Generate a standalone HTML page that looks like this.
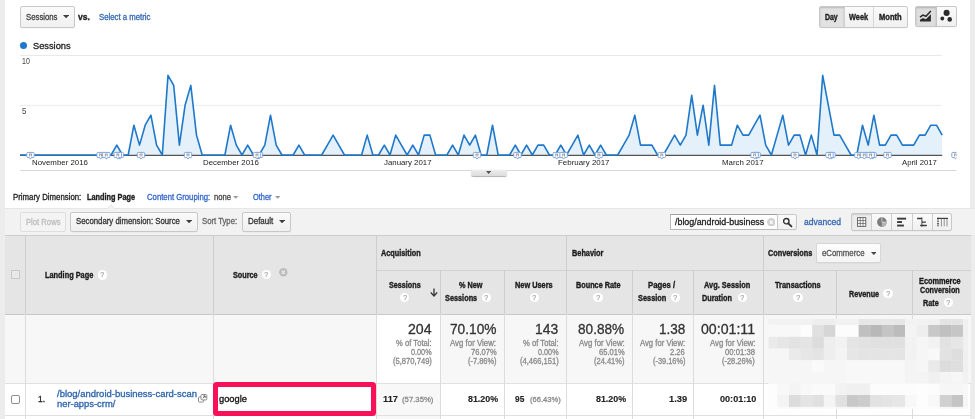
<!DOCTYPE html><html><head><meta charset="utf-8"><title>Analytics</title><style>
html,body{margin:0;padding:0}
body{width:975px;height:419px;overflow:hidden;background:#fff;position:relative;font-family:"Liberation Sans",sans-serif}
.abs{position:absolute}
.t{position:absolute;white-space:nowrap;line-height:1;transform-origin:0 50%;-webkit-text-stroke:0.3px currentColor}
.t.b{-webkit-text-stroke:0.36px currentColor}
.t.n{-webkit-text-stroke:0}
.t.d{-webkit-text-stroke:0.12px currentColor}
.btn{position:absolute;box-sizing:border-box;border:1px solid #c8c8c8;border-radius:2px;background:linear-gradient(#fafafa,#f0f0f0);box-shadow:0 0.5px 0.5px rgba(0,0,0,.06)}
.hi{width:9.4px;height:9.4px;border-radius:50%;background:#fff;color:#a9a9a9;font-size:7.6px;line-height:9.8px;text-align:center;font-weight:400;-webkit-text-stroke:0.25px #a9a9a9}
.hi span{display:inline-block;transform:scaleX(0.94)}
.vl{position:absolute;width:1px;background:#cfcfcf}
.hl{position:absolute;height:1px;background:#cfcfcf}

</style></head><body>
<div class="abs" style="left:0;top:0;width:5px;height:419px;background:#ececec"></div>
<div class="abs" style="left:970px;top:0;width:5px;height:419px;background:#ececec"></div>
<div class="btn" style="left:19.5px;top:6px;width:55px;height:22px"></div>
<svg class="abs" style="left:63.1px;top:15.0px" width="6.2" height="3.3" viewBox="0 0 6.2 3.3"><path d="M0,0H6.2L3.1,3.3Z" fill="#3d3d3d"/></svg>
<div class="btn" style="left:819px;top:6px;width:88.6px;height:22px"></div>
<div class="abs" style="left:820px;top:7px;width:23.6px;height:20px;background:#e2e2e2;box-shadow:inset 0 1px 2px rgba(0,0,0,.18);border-radius:1px 0 0 1px"></div>
<div class="vl" style="left:843.5px;top:7px;height:20px;background:#d0d0d0"></div>
<div class="vl" style="left:873px;top:7px;height:20px;background:#d6d6d6"></div>
<div class="btn" style="left:915px;top:6px;width:41.6px;height:20.8px"></div>
<div class="abs" style="left:916px;top:7px;width:20px;height:18.8px;background:#dedede;box-shadow:inset 0 1px 2px rgba(0,0,0,.2);border-radius:1px 0 0 1px"></div>
<div class="vl" style="left:935.8px;top:7px;height:18.8px;background:#c4c4c4"></div>
<svg class="abs" style="left:915px;top:6px" width="42" height="21" viewBox="0 0 42 21">
<path d="M5,11.2L7.9,9.1L10.9,10.3L15.9,4.9" fill="none" stroke="#2b2b2b" stroke-width="1.5"/>
<path d="M5,13.7L7.9,12L10.9,13.2L15.9,8.2V15.6H5Z" fill="#2b2b2b"/>
<circle cx="31.6" cy="6.9" r="3.05" fill="#2b2b2b"/><circle cx="27.3" cy="12.5" r="1.9" fill="#2b2b2b"/><circle cx="34.7" cy="13.4" r="2.3" fill="#2b2b2b"/>
</svg>
<div class="abs" style="left:19.7px;top:42.1px;width:7px;height:7px;border-radius:50%;background:#1f78c9"></div>
<svg class="abs" style="left:0;top:0" width="975" height="200" viewBox="0 0 975 200">
<line x1="20" y1="55.5" x2="942" y2="55.5" stroke="#e9e9e9" stroke-width="1"/>
<line x1="20" y1="105.4" x2="942" y2="105.4" stroke="#ececec" stroke-width="1"/>
<line x1="20" y1="170.5" x2="956.5" y2="170.5" stroke="#d9d9d9" stroke-width="1"/>
<path d="M20.0,155.0 L20.0,155.0 L25.7,155.0 L31.4,155.0 L37.1,155.0 L42.8,155.0 L48.5,155.0 L54.2,155.0 L59.8,155.0 L65.5,155.0 L71.2,155.0 L76.9,155.0 L82.6,155.0 L88.3,155.0 L94.0,155.0 L99.7,155.0 L105.4,155.0 L111.1,155.0 L116.8,145.1 L122.5,155.0 L128.2,155.0 L133.9,125.2 L139.5,145.1 L145.2,125.2 L150.9,115.2 L156.6,145.1 L162.3,155.0 L168.0,75.4 L173.7,85.4 L179.4,145.1 L185.1,105.2 L190.8,85.4 L196.5,135.1 L202.2,155.0 L207.9,155.0 L213.5,155.0 L219.2,155.0 L224.9,155.0 L230.6,125.2 L236.3,145.1 L242.0,155.0 L247.7,145.1 L253.4,155.0 L259.1,155.0 L264.8,145.1 L270.5,115.2 L276.2,145.1 L281.9,155.0 L287.6,155.0 L293.2,155.0 L298.9,145.1 L304.6,155.0 L310.3,155.0 L316.0,155.0 L321.7,155.0 L327.4,145.1 L333.1,135.1 L338.8,145.1 L344.5,155.0 L350.2,155.0 L355.9,155.0 L361.6,155.0 L367.2,135.1 L372.9,155.0 L378.6,155.0 L384.3,145.1 L390.0,155.0 L395.7,135.1 L401.4,145.1 L407.1,155.0 L412.8,145.1 L418.5,155.0 L424.2,135.1 L429.9,135.1 L435.6,155.0 L441.3,155.0 L446.9,155.0 L452.6,145.1 L458.3,155.0 L464.0,135.1 L469.7,145.1 L475.4,135.1 L481.1,155.0 L486.8,155.0 L492.5,125.2 L498.2,155.0 L503.9,155.0 L509.6,155.0 L515.3,145.1 L520.9,155.0 L526.6,145.1 L532.3,155.0 L538.0,145.1 L543.7,145.1 L549.4,155.0 L555.1,155.0 L560.8,145.1 L566.5,155.0 L572.2,145.1 L577.9,135.1 L583.6,155.0 L589.3,145.1 L595.0,155.0 L600.6,145.1 L606.3,155.0 L612.0,155.0 L617.7,155.0 L623.4,145.1 L629.1,135.1 L634.8,115.2 L640.5,145.1 L646.2,145.1 L651.9,145.1 L657.6,155.0 L663.3,155.0 L669.0,145.1 L674.6,135.1 L680.3,145.1 L686.0,135.1 L691.7,95.3 L697.4,135.1 L703.1,105.2 L708.8,145.1 L714.5,85.4 L720.2,145.1 L725.9,145.1 L731.6,145.1 L737.3,125.2 L743.0,135.1 L748.7,135.1 L754.3,125.2 L760.0,115.2 L765.7,145.1 L771.4,155.0 L777.1,135.1 L782.8,115.2 L788.5,145.1 L794.2,135.1 L799.9,135.1 L805.6,155.0 L811.3,135.1 L817.0,155.0 L822.7,75.4 L828.3,105.2 L834.0,135.1 L839.7,135.1 L845.4,145.1 L851.1,155.0 L856.8,155.0 L862.5,125.2 L868.2,145.1 L873.9,115.2 L879.6,145.1 L885.3,145.1 L891.0,135.1 L896.7,135.1 L902.4,145.1 L908.0,145.1 L913.7,145.1 L919.4,135.1 L925.1,135.1 L930.8,125.2 L936.5,125.2 L942.2,135.1 L942.2,155.0 Z" fill="#e4f1fa"/>
<line x1="20" y1="155.4" x2="942.2" y2="155.4" stroke="#555" stroke-width="1.2"/>
<polyline points="20.0,155.0 25.7,155.0 31.4,155.0 37.1,155.0 42.8,155.0 48.5,155.0 54.2,155.0 59.8,155.0 65.5,155.0 71.2,155.0 76.9,155.0 82.6,155.0 88.3,155.0 94.0,155.0 99.7,155.0 105.4,155.0 111.1,155.0 116.8,145.1 122.5,155.0 128.2,155.0 133.9,125.2 139.5,145.1 145.2,125.2 150.9,115.2 156.6,145.1 162.3,155.0 168.0,75.4 173.7,85.4 179.4,145.1 185.1,105.2 190.8,85.4 196.5,135.1 202.2,155.0 207.9,155.0 213.5,155.0 219.2,155.0 224.9,155.0 230.6,125.2 236.3,145.1 242.0,155.0 247.7,145.1 253.4,155.0 259.1,155.0 264.8,145.1 270.5,115.2 276.2,145.1 281.9,155.0 287.6,155.0 293.2,155.0 298.9,145.1 304.6,155.0 310.3,155.0 316.0,155.0 321.7,155.0 327.4,145.1 333.1,135.1 338.8,145.1 344.5,155.0 350.2,155.0 355.9,155.0 361.6,155.0 367.2,135.1 372.9,155.0 378.6,155.0 384.3,145.1 390.0,155.0 395.7,135.1 401.4,145.1 407.1,155.0 412.8,145.1 418.5,155.0 424.2,135.1 429.9,135.1 435.6,155.0 441.3,155.0 446.9,155.0 452.6,145.1 458.3,155.0 464.0,135.1 469.7,145.1 475.4,135.1 481.1,155.0 486.8,155.0 492.5,125.2 498.2,155.0 503.9,155.0 509.6,155.0 515.3,145.1 520.9,155.0 526.6,145.1 532.3,155.0 538.0,145.1 543.7,145.1 549.4,155.0 555.1,155.0 560.8,145.1 566.5,155.0 572.2,145.1 577.9,135.1 583.6,155.0 589.3,145.1 595.0,155.0 600.6,145.1 606.3,155.0 612.0,155.0 617.7,155.0 623.4,145.1 629.1,135.1 634.8,115.2 640.5,145.1 646.2,145.1 651.9,145.1 657.6,155.0 663.3,155.0 669.0,145.1 674.6,135.1 680.3,145.1 686.0,135.1 691.7,95.3 697.4,135.1 703.1,105.2 708.8,145.1 714.5,85.4 720.2,145.1 725.9,145.1 731.6,145.1 737.3,125.2 743.0,135.1 748.7,135.1 754.3,125.2 760.0,115.2 765.7,145.1 771.4,155.0 777.1,135.1 782.8,115.2 788.5,145.1 794.2,135.1 799.9,135.1 805.6,155.0 811.3,135.1 817.0,155.0 822.7,75.4 828.3,105.2 834.0,135.1 839.7,135.1 845.4,145.1 851.1,155.0 856.8,155.0 862.5,125.2 868.2,145.1 873.9,115.2 879.6,145.1 885.3,145.1 891.0,135.1 896.7,135.1 902.4,145.1 908.0,145.1 913.7,145.1 919.4,135.1 925.1,135.1 930.8,125.2 936.5,125.2 942.2,135.1" fill="none" stroke="#1f78c9" stroke-width="1.6" stroke-linejoin="round"/>
<clipPath id="mc"><rect x="0" y="0" width="956.5" height="200"/></clipPath><g clip-path="url(#mc)"><g transform="translate(26.4,152.0)"><path d="M1.4,0.4h5.4q1,0 1,1v3.2q0,1 -1,1h-1.7l-1,1.5l-1,-1.5h-1.7q-1,0 -1,-1v-3.2q0,-1 1,-1z" fill="#fff" stroke="#7ea5dd" stroke-width="1"/><path d="M2.6,2.1h3M3.2,2.4v2M5,2.4v2" stroke="#808080" stroke-width="0.8" fill="none"/></g>
<g transform="translate(96.5,152.0)"><path d="M1.4,0.4h5.4q1,0 1,1v3.2q0,1 -1,1h-1.7l-1,1.5l-1,-1.5h-1.7q-1,0 -1,-1v-3.2q0,-1 1,-1z" fill="#fff" stroke="#7ea5dd" stroke-width="1"/><path d="M2.6,2.1h3M3.2,2.4v2M5,2.4v2" stroke="#808080" stroke-width="0.8" fill="none"/></g>
<g transform="translate(102.2,152.0)"><path d="M1.4,0.4h5.4q1,0 1,1v3.2q0,1 -1,1h-1.7l-1,1.5l-1,-1.5h-1.7q-1,0 -1,-1v-3.2q0,-1 1,-1z" fill="#fff" stroke="#7ea5dd" stroke-width="1"/><path d="M2.6,2.1h3M3.2,2.4v2M5,2.4v2" stroke="#808080" stroke-width="0.8" fill="none"/></g>
<g transform="translate(115.7,152.0)"><path d="M1.4,0.4h5.4q1,0 1,1v3.2q0,1 -1,1h-1.7l-1,1.5l-1,-1.5h-1.7q-1,0 -1,-1v-3.2q0,-1 1,-1z" fill="#fff" stroke="#7ea5dd" stroke-width="1"/><path d="M2.6,2.1h3M3.2,2.4v2M5,2.4v2" stroke="#808080" stroke-width="0.8" fill="none"/></g>
<g transform="translate(113.7,152.0)"><path d="M1.4,0.4h5.4q1,0 1,1v3.2q0,1 -1,1h-1.7l-1,1.5l-1,-1.5h-1.7q-1,0 -1,-1v-3.2q0,-1 1,-1z" fill="#fff" stroke="#7ea5dd" stroke-width="1"/><path d="M2.6,2.1h3M3.2,2.4v2M5,2.4v2" stroke="#808080" stroke-width="0.8" fill="none"/></g>
<g transform="translate(136.9,152.0)"><path d="M1.4,0.4h5.4q1,0 1,1v3.2q0,1 -1,1h-1.7l-1,1.5l-1,-1.5h-1.7q-1,0 -1,-1v-3.2q0,-1 1,-1z" fill="#fff" stroke="#7ea5dd" stroke-width="1"/><path d="M2.6,2.1h3M3.2,2.4v2M5,2.4v2" stroke="#808080" stroke-width="0.8" fill="none"/></g>
<g transform="translate(183.9,152.0)"><path d="M1.4,0.4h5.4q1,0 1,1v3.2q0,1 -1,1h-1.7l-1,1.5l-1,-1.5h-1.7q-1,0 -1,-1v-3.2q0,-1 1,-1z" fill="#fff" stroke="#7ea5dd" stroke-width="1"/><path d="M2.6,2.1h3M3.2,2.4v2M5,2.4v2" stroke="#808080" stroke-width="0.8" fill="none"/></g>
<g transform="translate(254.9,152.0)"><path d="M1.4,0.4h5.4q1,0 1,1v3.2q0,1 -1,1h-1.7l-1,1.5l-1,-1.5h-1.7q-1,0 -1,-1v-3.2q0,-1 1,-1z" fill="#fff" stroke="#7ea5dd" stroke-width="1"/><path d="M2.6,2.1h3M3.2,2.4v2M5,2.4v2" stroke="#808080" stroke-width="0.8" fill="none"/></g>
<g transform="translate(252.9,152.0)"><path d="M1.4,0.4h5.4q1,0 1,1v3.2q0,1 -1,1h-1.7l-1,1.5l-1,-1.5h-1.7q-1,0 -1,-1v-3.2q0,-1 1,-1z" fill="#fff" stroke="#7ea5dd" stroke-width="1"/><path d="M2.6,2.1h3M3.2,2.4v2M5,2.4v2" stroke="#808080" stroke-width="0.8" fill="none"/></g>
<g transform="translate(472.9,152.0)"><path d="M1.4,0.4h5.4q1,0 1,1v3.2q0,1 -1,1h-1.7l-1,1.5l-1,-1.5h-1.7q-1,0 -1,-1v-3.2q0,-1 1,-1z" fill="#fff" stroke="#7ea5dd" stroke-width="1"/><path d="M2.6,2.1h3M3.2,2.4v2M5,2.4v2" stroke="#808080" stroke-width="0.8" fill="none"/></g>
<g transform="translate(513.4,152.0)"><path d="M1.4,0.4h5.4q1,0 1,1v3.2q0,1 -1,1h-1.7l-1,1.5l-1,-1.5h-1.7q-1,0 -1,-1v-3.2q0,-1 1,-1z" fill="#fff" stroke="#7ea5dd" stroke-width="1"/><path d="M2.6,2.1h3M3.2,2.4v2M5,2.4v2" stroke="#808080" stroke-width="0.8" fill="none"/></g>
<g transform="translate(552.6,152.0)"><path d="M1.4,0.4h5.4q1,0 1,1v3.2q0,1 -1,1h-1.7l-1,1.5l-1,-1.5h-1.7q-1,0 -1,-1v-3.2q0,-1 1,-1z" fill="#fff" stroke="#7ea5dd" stroke-width="1"/><path d="M2.6,2.1h3M3.2,2.4v2M5,2.4v2" stroke="#808080" stroke-width="0.8" fill="none"/></g>
<g transform="translate(559.5,152.0)"><path d="M1.4,0.4h5.4q1,0 1,1v3.2q0,1 -1,1h-1.7l-1,1.5l-1,-1.5h-1.7q-1,0 -1,-1v-3.2q0,-1 1,-1z" fill="#fff" stroke="#7ea5dd" stroke-width="1"/><path d="M2.6,2.1h3M3.2,2.4v2M5,2.4v2" stroke="#808080" stroke-width="0.8" fill="none"/></g>
<g transform="translate(594.8,152.0)"><path d="M1.4,0.4h5.4q1,0 1,1v3.2q0,1 -1,1h-1.7l-1,1.5l-1,-1.5h-1.7q-1,0 -1,-1v-3.2q0,-1 1,-1z" fill="#fff" stroke="#7ea5dd" stroke-width="1"/><path d="M2.6,2.1h3M3.2,2.4v2M5,2.4v2" stroke="#808080" stroke-width="0.8" fill="none"/></g>
<g transform="translate(657.7,152.0)"><path d="M1.4,0.4h5.4q1,0 1,1v3.2q0,1 -1,1h-1.7l-1,1.5l-1,-1.5h-1.7q-1,0 -1,-1v-3.2q0,-1 1,-1z" fill="#fff" stroke="#7ea5dd" stroke-width="1"/><path d="M2.6,2.1h3M3.2,2.4v2M5,2.4v2" stroke="#808080" stroke-width="0.8" fill="none"/></g>
<g transform="translate(752.5,152.0)"><path d="M1.4,0.4h5.4q1,0 1,1v3.2q0,1 -1,1h-1.7l-1,1.5l-1,-1.5h-1.7q-1,0 -1,-1v-3.2q0,-1 1,-1z" fill="#fff" stroke="#7ea5dd" stroke-width="1"/><path d="M2.6,2.1h3M3.2,2.4v2M5,2.4v2" stroke="#808080" stroke-width="0.8" fill="none"/></g>
<g transform="translate(750.5,152.0)"><path d="M1.4,0.4h5.4q1,0 1,1v3.2q0,1 -1,1h-1.7l-1,1.5l-1,-1.5h-1.7q-1,0 -1,-1v-3.2q0,-1 1,-1z" fill="#fff" stroke="#7ea5dd" stroke-width="1"/><path d="M2.6,2.1h3M3.2,2.4v2M5,2.4v2" stroke="#808080" stroke-width="0.8" fill="none"/></g>
<g transform="translate(790.9,152.0)"><path d="M1.4,0.4h5.4q1,0 1,1v3.2q0,1 -1,1h-1.7l-1,1.5l-1,-1.5h-1.7q-1,0 -1,-1v-3.2q0,-1 1,-1z" fill="#fff" stroke="#7ea5dd" stroke-width="1"/><path d="M2.6,2.1h3M3.2,2.4v2M5,2.4v2" stroke="#808080" stroke-width="0.8" fill="none"/></g>
<g transform="translate(827.4,152.0)"><path d="M1.4,0.4h5.4q1,0 1,1v3.2q0,1 -1,1h-1.7l-1,1.5l-1,-1.5h-1.7q-1,0 -1,-1v-3.2q0,-1 1,-1z" fill="#fff" stroke="#7ea5dd" stroke-width="1"/><path d="M2.6,2.1h3M3.2,2.4v2M5,2.4v2" stroke="#808080" stroke-width="0.8" fill="none"/></g>
<g transform="translate(825.4,152.0)"><path d="M1.4,0.4h5.4q1,0 1,1v3.2q0,1 -1,1h-1.7l-1,1.5l-1,-1.5h-1.7q-1,0 -1,-1v-3.2q0,-1 1,-1z" fill="#fff" stroke="#7ea5dd" stroke-width="1"/><path d="M2.6,2.1h3M3.2,2.4v2M5,2.4v2" stroke="#808080" stroke-width="0.8" fill="none"/></g>
<g transform="translate(854.3,152.0)"><path d="M1.4,0.4h5.4q1,0 1,1v3.2q0,1 -1,1h-1.7l-1,1.5l-1,-1.5h-1.7q-1,0 -1,-1v-3.2q0,-1 1,-1z" fill="#fff" stroke="#7ea5dd" stroke-width="1"/><path d="M2.6,2.1h3M3.2,2.4v2M5,2.4v2" stroke="#808080" stroke-width="0.8" fill="none"/></g>
<g transform="translate(860.2,152.0)"><path d="M1.4,0.4h5.4q1,0 1,1v3.2q0,1 -1,1h-1.7l-1,1.5l-1,-1.5h-1.7q-1,0 -1,-1v-3.2q0,-1 1,-1z" fill="#fff" stroke="#7ea5dd" stroke-width="1"/><path d="M2.6,2.1h3M3.2,2.4v2M5,2.4v2" stroke="#808080" stroke-width="0.8" fill="none"/></g>
<g transform="translate(868.5,152.0)"><path d="M1.4,0.4h5.4q1,0 1,1v3.2q0,1 -1,1h-1.7l-1,1.5l-1,-1.5h-1.7q-1,0 -1,-1v-3.2q0,-1 1,-1z" fill="#fff" stroke="#7ea5dd" stroke-width="1"/><path d="M2.6,2.1h3M3.2,2.4v2M5,2.4v2" stroke="#808080" stroke-width="0.8" fill="none"/></g>
<g transform="translate(866.5,152.0)"><path d="M1.4,0.4h5.4q1,0 1,1v3.2q0,1 -1,1h-1.7l-1,1.5l-1,-1.5h-1.7q-1,0 -1,-1v-3.2q0,-1 1,-1z" fill="#fff" stroke="#7ea5dd" stroke-width="1"/><path d="M2.6,2.1h3M3.2,2.4v2M5,2.4v2" stroke="#808080" stroke-width="0.8" fill="none"/></g>
<g transform="translate(883.4,152.0)"><path d="M1.4,0.4h5.4q1,0 1,1v3.2q0,1 -1,1h-1.7l-1,1.5l-1,-1.5h-1.7q-1,0 -1,-1v-3.2q0,-1 1,-1z" fill="#fff" stroke="#7ea5dd" stroke-width="1"/><path d="M2.6,2.1h3M3.2,2.4v2M5,2.4v2" stroke="#808080" stroke-width="0.8" fill="none"/></g>
<g transform="translate(951.4,152.0)"><path d="M1.4,0.4h5.4q1,0 1,1v3.2q0,1 -1,1h-1.7l-1,1.5l-1,-1.5h-1.7q-1,0 -1,-1v-3.2q0,-1 1,-1z" fill="#fff" stroke="#7ea5dd" stroke-width="1"/><path d="M2.6,2.1h3M3.2,2.4v2M5,2.4v2" stroke="#808080" stroke-width="0.8" fill="none"/></g></g>
</svg>
<div class="abs" style="left:470.6px;top:170.4px;width:36px;height:5.4px;background:linear-gradient(#ededed,#dcdcdc);border-radius:0 0 2px 2px;box-shadow:0 0.6px 0.8px rgba(0,0,0,.3)"></div>
<svg class="abs" style="left:486.3px;top:171.0px" width="5.2" height="2.9" viewBox="0 0 5.2 2.9"><path d="M0,0H5.2L2.6,2.9Z" fill="#555"/></svg>
<svg class="abs" style="left:233.4px;top:196.4px" width="5.4" height="2.8" viewBox="0 0 5.4 2.8"><path d="M0,0H5.4L2.7,2.8Z" fill="#9a9a9a"/></svg>
<svg class="abs" style="left:274.5px;top:196.4px" width="5.4" height="2.8" viewBox="0 0 5.4 2.8"><path d="M0,0H5.4L2.7,2.8Z" fill="#9a9a9a"/></svg>
<div class="abs" style="left:5px;top:208.3px;width:970px;height:27.2px;background:#f2f2f2;border-top:1px solid #e6e6e6;box-sizing:border-box"></div>
<svg class="abs" style="left:106px;top:204px" width="10" height="6" viewBox="0 0 10 6"><path d="M0.6,5.2L5,0.9L9.4,5.2V6H0.6Z" fill="#f2f2f2"/><path d="M0.6,4.8L5,0.9L9.4,4.8" fill="none" stroke="#e2e2e2" stroke-width="0.9"/></svg>
<div class="btn" style="left:20px;top:211.6px;width:46px;height:20px;background:#f4f4f4;border-color:#dedede;box-shadow:none"></div>
<div class="btn" style="left:70.4px;top:211.6px;width:127.9px;height:20px"></div>
<svg class="abs" style="left:186.3px;top:219.7px" width="6.2" height="3.3" viewBox="0 0 6.2 3.3"><path d="M0,0H6.2L3.1,3.3Z" fill="#3d3d3d"/></svg>
<div class="btn" style="left:242.3px;top:211.6px;width:48.8px;height:20px"></div>
<svg class="abs" style="left:279.2px;top:219.7px" width="6.2" height="3.3" viewBox="0 0 6.2 3.3"><path d="M0,0H6.2L3.1,3.3Z" fill="#3d3d3d"/></svg>
<div class="abs" style="left:669.7px;top:214px;width:108px;height:16.4px;box-sizing:border-box;background:#fff;border:1px solid #b9b9b9;border-top-color:#a0a0a0"></div>
<svg class="abs" style="left:766.5px;top:217.8px" width="8.6" height="8.6" viewBox="0 0 8.6 8.6"><circle cx="4.3" cy="4.3" r="4.2" fill="#cfcfcf"/><path d="M2.7,2.7L5.9,5.9M5.9,2.7L2.7,5.9" stroke="#fff" stroke-width="1.1"/></svg>
<div class="btn" style="left:777.2px;top:214px;width:20.3px;height:16.4px;border-radius:0 2px 2px 0"></div>
<svg class="abs" style="left:782px;top:217px" width="11" height="11" viewBox="0 0 11 11"><circle cx="4.3" cy="4.2" r="2.7" fill="none" stroke="#333" stroke-width="1.4"/><path d="M6.3,6.3L9.4,9.4" stroke="#333" stroke-width="1.9" stroke-linecap="round"/></svg>
<div class="btn" style="left:851.4px;top:213.2px;width:101.1px;height:17.5px"></div>
<div class="abs" style="left:852.4px;top:214.2px;width:19.2px;height:15.5px;background:#ececec;box-shadow:inset 0 1px 1.5px rgba(0,0,0,.13)"></div>
<div class="vl" style="left:871.4px;top:214.2px;height:15.5px;background:#cdcdcd"></div>
<div class="vl" style="left:891.3px;top:214.2px;height:15.5px;background:#cdcdcd"></div>
<div class="vl" style="left:911.6px;top:214.2px;height:15.5px;background:#cdcdcd"></div>
<div class="vl" style="left:931.5px;top:214.2px;height:15.5px;background:#cdcdcd"></div>
<svg class="abs" style="left:851px;top:213px" width="102" height="18" viewBox="0 0 102 18">
<rect x="6.4" y="4.7" width="8.4" height="8.6" fill="#fff" stroke="#4a4a4a" stroke-width="0.8"/>
<path d="M9.2,4.7v8.6M12,4.7v8.6M6.4,7.55h8.4M6.4,10.45h8.4" stroke="#4a4a4a" stroke-width="0.65" fill="none"/>
<circle cx="30.9" cy="9.1" r="4.85" fill="#7d7d7d"/><path d="M30.9,9.1H35.75A4.85,4.85 0 0 1 30.9,13.95Z" fill="#b4b4b4"/><path d="M30.9,4.2V9.1H35.8" stroke="#e4e4e4" stroke-width="0.7" fill="none"/>
<rect x="46.1" y="4.7" width="9" height="1.9" fill="#3a3a3a"/><rect x="46.1" y="8.1" width="4.9" height="1.9" fill="#3a3a3a"/><rect x="46.1" y="11.6" width="6.8" height="1.9" fill="#3a3a3a"/>
<path d="M70.9,4.4V13.6" stroke="#3a3a3a" stroke-width="0.9"/><path d="M66.1,5.4H70.9M70.9,9.1H74.9M69.2,12.5H75.8" stroke="#3a3a3a" stroke-width="1.45"/>
<rect x="86.2" y="4.8" width="10.8" height="1.2" fill="#3a3a3a"/><path d="M87,4.8V13.4" stroke="#3a3a3a" stroke-width="1.5" stroke-dasharray="1.1 0.6"/><path d="M90.4,5V13.4M93.2,5V13.4M96,5V13.4" stroke="#4a4a4a" stroke-width="0.6"/>
</svg>
<div class="abs" style="left:5px;top:235.5px;width:965.5px;height:78.7px;background:#e5e5e5"></div>
<div class="abs" style="left:5px;top:314.2px;width:965.5px;height:69px;background:#f7f7f7"></div>
<div class="abs" style="left:376px;top:314.2px;width:64px;height:69px;background:#fff"></div>
<div class="abs" style="left:376px;top:383.2px;width:64px;height:36px;background:#f8f8f8"></div>
<div class="hl" style="left:5px;top:235px;width:965.5px;background:#cdcdcd"></div>
<div class="hl" style="left:376px;top:270px;width:594.5px;background:#d2d2d2"></div>
<div class="hl" style="left:5px;top:314px;width:965.5px;background:#c9c9c9"></div>
<div class="hl" style="left:5px;top:383px;width:965.5px;background:#e0e0e0"></div>
<div class="hl" style="left:5px;top:415.3px;width:965.5px;background:#e0e0e0"></div>
<div class="vl" style="left:24.5px;top:235.5px;height:78.7px;background:#cdcdcd"></div>
<div class="vl" style="left:24.5px;top:314.2px;height:104.8px;background:#dcdcdc"></div>
<div class="vl" style="left:213.0px;top:235.5px;height:78.7px;background:#cdcdcd"></div>
<div class="vl" style="left:213.0px;top:314.2px;height:104.8px;background:#dcdcdc"></div>
<div class="vl" style="left:375.5px;top:235.5px;height:78.7px;background:#cdcdcd"></div>
<div class="vl" style="left:375.5px;top:314.2px;height:104.8px;background:#dcdcdc"></div>
<div class="vl" style="left:439.5px;top:270.0px;height:44.2px;background:#cdcdcd"></div>
<div class="vl" style="left:439.5px;top:314.2px;height:104.8px;background:#dcdcdc"></div>
<div class="vl" style="left:503.5px;top:270.0px;height:44.2px;background:#cdcdcd"></div>
<div class="vl" style="left:503.5px;top:314.2px;height:104.8px;background:#dcdcdc"></div>
<div class="vl" style="left:566.0px;top:235.5px;height:78.7px;background:#cdcdcd"></div>
<div class="vl" style="left:566.0px;top:314.2px;height:104.8px;background:#dcdcdc"></div>
<div class="vl" style="left:631.8px;top:270.0px;height:44.2px;background:#cdcdcd"></div>
<div class="vl" style="left:631.8px;top:314.2px;height:104.8px;background:#dcdcdc"></div>
<div class="vl" style="left:693.1px;top:270.0px;height:44.2px;background:#cdcdcd"></div>
<div class="vl" style="left:693.1px;top:314.2px;height:104.8px;background:#dcdcdc"></div>
<div class="vl" style="left:762.7px;top:235.5px;height:78.7px;background:#cdcdcd"></div>
<div class="vl" style="left:762.7px;top:314.2px;height:104.8px;background:#dcdcdc"></div>
<div class="vl" style="left:836.2px;top:270.0px;height:44.2px;background:#cdcdcd"></div>
<div class="vl" style="left:836.2px;top:314.2px;height:104.8px;background:#dcdcdc"></div>
<div class="vl" style="left:912.0px;top:270.0px;height:44.2px;background:#cdcdcd"></div>
<div class="vl" style="left:912.0px;top:314.2px;height:104.8px;background:#dcdcdc"></div>
<div class="abs" style="left:11.3px;top:270.3px;width:8.6px;height:8.8px;box-sizing:border-box;border:1px solid #c9c9c9;background:#e9e9e9"></div>
<div class="abs" style="left:11.3px;top:395px;width:8.6px;height:8.6px;box-sizing:border-box;border:1px solid #8e8e8e;border-radius:2px;background:#fff"></div>
<div class="abs hi" style="left:97.6px;top:270.3px"><span>?</span></div>
<div class="abs hi" style="left:261.8px;top:270.1px"><span>?</span></div>
<div class="abs hi" style="left:400.0px;top:293.1px"><span>?</span></div>
<div class="abs hi" style="left:481.8px;top:293.1px"><span>?</span></div>
<div class="abs hi" style="left:529.6px;top:293.1px"><span>?</span></div>
<div class="abs hi" style="left:593.3px;top:293.1px"><span>?</span></div>
<div class="abs hi" style="left:670.6px;top:293.1px"><span>?</span></div>
<div class="abs hi" style="left:737.7px;top:293.1px"><span>?</span></div>
<div class="abs hi" style="left:793.3px;top:293.1px"><span>?</span></div>
<div class="abs hi" style="left:883.3px;top:288.8px"><span>?</span></div>
<div class="abs hi" style="left:943.7px;top:298.1px"><span>?</span></div>
<svg class="abs" style="left:279.1px;top:268.4px" width="8.6" height="8.6" viewBox="0 0 8.6 8.6"><circle cx="4.3" cy="4.3" r="4.2" fill="#bdbdbd"/><path d="M2.7,2.7L5.9,5.9M5.9,2.7L2.7,5.9" stroke="#eee" stroke-width="1.1"/></svg>
<svg class="abs" style="left:429.6px;top:288.4px" width="8" height="9" viewBox="0 0 8 9"><path d="M4,0.5V7.8M0.8,4.5L4,7.9L7.2,4.5" fill="none" stroke="#3c3c3c" stroke-width="1.35"/></svg>
<div class="btn" style="left:816.3px;top:242.5px;width:65.2px;height:20.8px;background:linear-gradient(#fdfdfd,#f5f5f5);border-color:#d6d6d6"></div>
<svg class="abs" style="left:870.9px;top:251.7px" width="5.6" height="3.0" viewBox="0 0 5.6 3.0"><path d="M0,0H5.6L2.8,3.0Z" fill="#444"/></svg>
<svg class="abs" style="left:0;top:0;filter:blur(0.6px)" width="975" height="419" viewBox="0 0 975 419">
<rect x="768.5" y="319.0" width="9.2" height="6.3" fill="#f2f2f2"/>
<rect x="777.4" y="319.0" width="11.9" height="6.3" fill="#f2f2f2"/>
<rect x="789.0" y="319.0" width="11.9" height="6.3" fill="#f2f2f2"/>
<rect x="800.6" y="319.0" width="11.9" height="6.3" fill="#f2f2f2"/>
<rect x="812.2" y="319.0" width="11.9" height="6.3" fill="#eeeeee"/>
<rect x="823.8" y="319.0" width="11.9" height="6.3" fill="#eeeeee"/>
<rect x="835.4" y="319.0" width="11.9" height="6.3" fill="#f2f2f2"/>
<rect x="847.0" y="319.0" width="11.9" height="6.3" fill="#f2f2f2"/>
<rect x="858.6" y="319.0" width="11.9" height="6.3" fill="#e6e6e6"/>
<rect x="870.2" y="319.0" width="11.9" height="6.3" fill="#e6e6e6"/>
<rect x="881.8" y="319.0" width="11.9" height="6.3" fill="#e8e8e8"/>
<rect x="893.4" y="319.0" width="11.9" height="6.3" fill="#e6e6e6"/>
<rect x="905.0" y="319.0" width="11.9" height="6.3" fill="#f2f2f2"/>
<rect x="916.6" y="319.0" width="11.9" height="6.3" fill="#f2f2f2"/>
<rect x="928.2" y="319.0" width="11.9" height="6.3" fill="#f0f0f0"/>
<rect x="939.8" y="319.0" width="11.9" height="6.3" fill="#e4e4e4"/>
<rect x="951.4" y="319.0" width="11.9" height="6.3" fill="#e4e4e4"/>
<rect x="963.0" y="319.0" width="5.3" height="6.3" fill="#f0f0f0"/>
<rect x="768.5" y="325.0" width="9.2" height="12.1" fill="#f8f8f8"/>
<rect x="777.4" y="325.0" width="11.9" height="12.1" fill="#f8f8f8"/>
<rect x="789.0" y="325.0" width="11.9" height="12.1" fill="#f8f8f8"/>
<rect x="800.6" y="325.0" width="11.9" height="12.1" fill="#fdfdfd"/>
<rect x="812.2" y="325.0" width="11.9" height="12.1" fill="#e0e0e0"/>
<rect x="823.8" y="325.0" width="11.9" height="12.1" fill="#d6d6d6"/>
<rect x="835.4" y="325.0" width="11.9" height="12.1" fill="#fcfcfc"/>
<rect x="847.0" y="325.0" width="11.9" height="12.1" fill="#fcfcfc"/>
<rect x="858.6" y="325.0" width="11.9" height="12.1" fill="#c0c0c0"/>
<rect x="870.2" y="325.0" width="11.9" height="12.1" fill="#b8b8b8"/>
<rect x="881.8" y="325.0" width="11.9" height="12.1" fill="#c4c4c4"/>
<rect x="893.4" y="325.0" width="11.9" height="12.1" fill="#bcbcbc"/>
<rect x="905.0" y="325.0" width="11.9" height="12.1" fill="#f4f4f4"/>
<rect x="916.6" y="325.0" width="11.9" height="12.1" fill="#eeeeee"/>
<rect x="928.2" y="325.0" width="11.9" height="12.1" fill="#c8c8c8"/>
<rect x="939.8" y="325.0" width="11.9" height="12.1" fill="#c0c0c0"/>
<rect x="951.4" y="325.0" width="11.9" height="12.1" fill="#c6c6c6"/>
<rect x="963.0" y="325.0" width="5.3" height="12.1" fill="#f0f0f0"/>
<rect x="768.5" y="336.8" width="9.2" height="12.0" fill="#eaeaea"/>
<rect x="777.4" y="336.8" width="11.9" height="12.0" fill="#e6e6e6"/>
<rect x="789.0" y="336.8" width="11.9" height="12.0" fill="#e2e2e2"/>
<rect x="800.6" y="336.8" width="11.9" height="12.0" fill="#e4e4e4"/>
<rect x="812.2" y="336.8" width="11.9" height="12.0" fill="#dcdcdc"/>
<rect x="823.8" y="336.8" width="11.9" height="12.0" fill="#eeeeee"/>
<rect x="835.4" y="336.8" width="11.9" height="12.0" fill="#f2f2f2"/>
<rect x="847.0" y="336.8" width="11.9" height="12.0" fill="#e4e4e4"/>
<rect x="858.6" y="336.8" width="11.9" height="12.0" fill="#e2e2e2"/>
<rect x="870.2" y="336.8" width="11.9" height="12.0" fill="#e0e0e0"/>
<rect x="881.8" y="336.8" width="11.9" height="12.0" fill="#e0e0e0"/>
<rect x="893.4" y="336.8" width="11.9" height="12.0" fill="#e0e0e0"/>
<rect x="905.0" y="336.8" width="11.9" height="12.0" fill="#f2f2f2"/>
<rect x="916.6" y="336.8" width="11.9" height="12.0" fill="#f6f6f6"/>
<rect x="928.2" y="336.8" width="11.9" height="12.0" fill="#f2f2f2"/>
<rect x="939.8" y="336.8" width="11.9" height="12.0" fill="#e2e2e2"/>
<rect x="951.4" y="336.8" width="11.9" height="12.0" fill="#e6e6e6"/>
<rect x="963.0" y="336.8" width="5.3" height="12.0" fill="#f0f0f0"/>
<rect x="768.5" y="348.5" width="9.2" height="12.0" fill="#f6f6f6"/>
<rect x="777.4" y="348.5" width="11.9" height="12.0" fill="#f6f6f6"/>
<rect x="789.0" y="348.5" width="11.9" height="12.0" fill="#eaeaea"/>
<rect x="800.6" y="348.5" width="11.9" height="12.0" fill="#e6e6e6"/>
<rect x="812.2" y="348.5" width="11.9" height="12.0" fill="#e4e4e4"/>
<rect x="823.8" y="348.5" width="11.9" height="12.0" fill="#eeeeee"/>
<rect x="835.4" y="348.5" width="11.9" height="12.0" fill="#f4f4f4"/>
<rect x="847.0" y="348.5" width="11.9" height="12.0" fill="#e6e6e6"/>
<rect x="858.6" y="348.5" width="11.9" height="12.0" fill="#e4e4e4"/>
<rect x="870.2" y="348.5" width="11.9" height="12.0" fill="#e4e4e4"/>
<rect x="881.8" y="348.5" width="11.9" height="12.0" fill="#e4e4e4"/>
<rect x="893.4" y="348.5" width="11.9" height="12.0" fill="#e4e4e4"/>
<rect x="905.0" y="348.5" width="11.9" height="12.0" fill="#f2f2f2"/>
<rect x="916.6" y="348.5" width="11.9" height="12.0" fill="#f6f6f6"/>
<rect x="928.2" y="348.5" width="11.9" height="12.0" fill="#f8f8f8"/>
<rect x="939.8" y="348.5" width="11.9" height="12.0" fill="#e2e2e2"/>
<rect x="951.4" y="348.5" width="11.9" height="12.0" fill="#dedede"/>
<rect x="963.0" y="348.5" width="5.3" height="12.0" fill="#f0f0f0"/>
<rect x="768.5" y="360.2" width="9.2" height="12.0" fill="#f6f6f6"/>
<rect x="777.4" y="360.2" width="11.9" height="12.0" fill="#f6f6f6"/>
<rect x="789.0" y="360.2" width="11.9" height="12.0" fill="#f6f6f6"/>
<rect x="800.6" y="360.2" width="11.9" height="12.0" fill="#f6f6f6"/>
<rect x="812.2" y="360.2" width="11.9" height="12.0" fill="#fafafa"/>
<rect x="823.8" y="360.2" width="11.9" height="12.0" fill="#f6f6f6"/>
<rect x="835.4" y="360.2" width="11.9" height="12.0" fill="#f6f6f6"/>
<rect x="847.0" y="360.2" width="11.9" height="12.0" fill="#f8f8f8"/>
<rect x="858.6" y="360.2" width="11.9" height="12.0" fill="#f8f8f8"/>
<rect x="870.2" y="360.2" width="11.9" height="12.0" fill="#f8f8f8"/>
<rect x="881.8" y="360.2" width="11.9" height="12.0" fill="#f8f8f8"/>
<rect x="893.4" y="360.2" width="11.9" height="12.0" fill="#f8f8f8"/>
<rect x="905.0" y="360.2" width="11.9" height="12.0" fill="#f4f4f4"/>
<rect x="916.6" y="360.2" width="11.9" height="12.0" fill="#f6f6f6"/>
<rect x="928.2" y="360.2" width="11.9" height="12.0" fill="#eaeaea"/>
<rect x="939.8" y="360.2" width="11.9" height="12.0" fill="#dcdcdc"/>
<rect x="951.4" y="360.2" width="11.9" height="12.0" fill="#dedede"/>
<rect x="963.0" y="360.2" width="5.3" height="12.0" fill="#f0f0f0"/>
<rect x="768.5" y="371.9" width="9.2" height="12.0" fill="#f6f6f6"/>
<rect x="777.4" y="371.9" width="11.9" height="12.0" fill="#f6f6f6"/>
<rect x="789.0" y="371.9" width="11.9" height="12.0" fill="#f6f6f6"/>
<rect x="800.6" y="371.9" width="11.9" height="12.0" fill="#f6f6f6"/>
<rect x="812.2" y="371.9" width="11.9" height="12.0" fill="#f6f6f6"/>
<rect x="823.8" y="371.9" width="11.9" height="12.0" fill="#f6f6f6"/>
<rect x="835.4" y="371.9" width="11.9" height="12.0" fill="#f6f6f6"/>
<rect x="847.0" y="371.9" width="11.9" height="12.0" fill="#f8f8f8"/>
<rect x="858.6" y="371.9" width="11.9" height="12.0" fill="#f8f8f8"/>
<rect x="870.2" y="371.9" width="11.9" height="12.0" fill="#f8f8f8"/>
<rect x="881.8" y="371.9" width="11.9" height="12.0" fill="#f8f8f8"/>
<rect x="893.4" y="371.9" width="11.9" height="12.0" fill="#f8f8f8"/>
<rect x="905.0" y="371.9" width="11.9" height="12.0" fill="#f4f4f4"/>
<rect x="916.6" y="371.9" width="11.9" height="12.0" fill="#f4f4f4"/>
<rect x="928.2" y="371.9" width="11.9" height="12.0" fill="#f0f0f0"/>
<rect x="939.8" y="371.9" width="11.9" height="12.0" fill="#f4f4f4"/>
<rect x="951.4" y="371.9" width="11.9" height="12.0" fill="#f6f6f6"/>
<rect x="963.0" y="371.9" width="5.3" height="12.0" fill="#f2f2f2"/>
<rect x="768.5" y="383.6" width="9.2" height="11.7" fill="#fdfdfd"/>
<rect x="777.4" y="383.6" width="11.9" height="11.7" fill="#f8f8f8"/>
<rect x="789.0" y="383.6" width="11.9" height="11.7" fill="#f4f4f4"/>
<rect x="800.6" y="383.6" width="11.9" height="11.7" fill="#f8f8f8"/>
<rect x="812.2" y="383.6" width="11.9" height="11.7" fill="#fafafa"/>
<rect x="823.8" y="383.6" width="11.9" height="11.7" fill="#fafafa"/>
<rect x="835.4" y="383.6" width="11.9" height="11.7" fill="#f2f2f2"/>
<rect x="847.0" y="383.6" width="11.9" height="11.7" fill="#f0f0f0"/>
<rect x="858.6" y="383.6" width="11.9" height="11.7" fill="#f0f0f0"/>
<rect x="870.2" y="383.6" width="11.9" height="11.7" fill="#fcfcfc"/>
<rect x="881.8" y="383.6" width="11.9" height="11.7" fill="#fcfcfc"/>
<rect x="893.4" y="383.6" width="11.9" height="11.7" fill="#fcfcfc"/>
<rect x="905.0" y="383.6" width="11.9" height="11.7" fill="#fcfcfc"/>
<rect x="916.6" y="383.6" width="11.9" height="11.7" fill="#fdfdfd"/>
<rect x="928.2" y="383.6" width="11.9" height="11.7" fill="#fcfcfc"/>
<rect x="939.8" y="383.6" width="11.9" height="11.7" fill="#f6f6f6"/>
<rect x="951.4" y="383.6" width="11.9" height="11.7" fill="#f6f6f6"/>
<rect x="963.0" y="383.6" width="5.3" height="11.7" fill="#f8f8f8"/>
<rect x="768.5" y="395.0" width="9.2" height="12.1" fill="#fdfdfd"/>
<rect x="777.4" y="395.0" width="11.9" height="12.1" fill="#f4f4f4"/>
<rect x="789.0" y="395.0" width="11.9" height="12.1" fill="#dcdcdc"/>
<rect x="800.6" y="395.0" width="11.9" height="12.1" fill="#e4e4e4"/>
<rect x="812.2" y="395.0" width="11.9" height="12.1" fill="#e0e0e0"/>
<rect x="823.8" y="395.0" width="11.9" height="12.1" fill="#f4f4f4"/>
<rect x="835.4" y="395.0" width="11.9" height="12.1" fill="#e0e0e0"/>
<rect x="847.0" y="395.0" width="11.9" height="12.1" fill="#c8c8c8"/>
<rect x="858.6" y="395.0" width="11.9" height="12.1" fill="#cccccc"/>
<rect x="870.2" y="395.0" width="11.9" height="12.1" fill="#e2e2e2"/>
<rect x="881.8" y="395.0" width="11.9" height="12.1" fill="#e4e4e4"/>
<rect x="893.4" y="395.0" width="11.9" height="12.1" fill="#e6e6e6"/>
<rect x="905.0" y="395.0" width="11.9" height="12.1" fill="#f8f8f8"/>
<rect x="916.6" y="395.0" width="11.9" height="12.1" fill="#fdfdfd"/>
<rect x="928.2" y="395.0" width="11.9" height="12.1" fill="#f8f8f8"/>
<rect x="939.8" y="395.0" width="11.9" height="12.1" fill="#d0d0d0"/>
<rect x="951.4" y="395.0" width="11.9" height="12.1" fill="#c4c4c4"/>
<rect x="963.0" y="395.0" width="5.3" height="12.1" fill="#f6f6f6"/>
<rect x="768.5" y="406.8" width="9.2" height="1.9" fill="#fdfdfd"/>
<rect x="777.4" y="406.8" width="11.9" height="1.9" fill="#fafafa"/>
<rect x="789.0" y="406.8" width="11.9" height="1.9" fill="#f6f6f6"/>
<rect x="800.6" y="406.8" width="11.9" height="1.9" fill="#f8f8f8"/>
<rect x="812.2" y="406.8" width="11.9" height="1.9" fill="#f8f8f8"/>
<rect x="823.8" y="406.8" width="11.9" height="1.9" fill="#fafafa"/>
<rect x="835.4" y="406.8" width="11.9" height="1.9" fill="#f6f6f6"/>
<rect x="847.0" y="406.8" width="11.9" height="1.9" fill="#f4f4f4"/>
<rect x="858.6" y="406.8" width="11.9" height="1.9" fill="#f4f4f4"/>
<rect x="870.2" y="406.8" width="11.9" height="1.9" fill="#f8f8f8"/>
<rect x="881.8" y="406.8" width="11.9" height="1.9" fill="#f8f8f8"/>
<rect x="893.4" y="406.8" width="11.9" height="1.9" fill="#f8f8f8"/>
<rect x="905.0" y="406.8" width="11.9" height="1.9" fill="#fcfcfc"/>
<rect x="916.6" y="406.8" width="11.9" height="1.9" fill="#fdfdfd"/>
<rect x="928.2" y="406.8" width="11.9" height="1.9" fill="#fcfcfc"/>
<rect x="939.8" y="406.8" width="11.9" height="1.9" fill="#f6f6f6"/>
<rect x="951.4" y="406.8" width="11.9" height="1.9" fill="#f4f4f4"/>
<rect x="963.0" y="406.8" width="5.3" height="1.9" fill="#fafafa"/>
</svg>
<svg class="abs" style="left:198.3px;top:394.4px" width="9.4" height="8.8" viewBox="0 0 9.4 8.8"><rect x="0.5" y="2.9" width="5.2" height="5.2" rx="1" fill="#fff" stroke="#8c8c8c" stroke-width="1"/><rect x="3" y="0.5" width="5.8" height="5.4" rx="1" fill="#fff" stroke="#8c8c8c" stroke-width="1"/><path d="M4.9,4.2L7.1,2M5.2,1.9H7.2V3.9" stroke="#555" stroke-width="0.9" fill="none"/></svg>
<div class="abs" style="left:213px;top:382.4px;width:162.6px;height:33.6px;box-sizing:border-box;border:5px solid #f81058;border-radius:3.5px;background:#fff"></div>
<span class="t" id="t0" style="left:25.50px;top:12.60px;font-size:8.40px;font-weight:400;color:#444;transform:scaleX(0.9269)">Sessions</span>
<span class="t b" id="t1" style="left:78.00px;top:11.85px;font-size:9.50px;font-weight:700;color:#222;transform:scaleX(0.9078)">vs.</span>
<span class="t" id="t2" style="left:98.50px;top:12.60px;font-size:8.40px;font-weight:400;color:#3468b0;transform:scaleX(0.9298)">Select a metric</span>
<span class="t b" id="t3" style="left:824.90px;top:12.70px;font-size:8.40px;font-weight:700;color:#222;transform:scaleX(0.8260)">Day</span>
<span class="t b" id="t4" style="left:849.30px;top:12.70px;font-size:8.40px;font-weight:700;color:#222;transform:scaleX(0.8788)">Week</span>
<span class="t b" id="t5" style="left:879.30px;top:12.70px;font-size:8.40px;font-weight:700;color:#222;transform:scaleX(0.8995)">Month</span>
<span class="t" id="t6" style="left:32.80px;top:42.15px;font-size:9.30px;font-weight:400;color:#222;transform:scaleX(0.9964)">Sessions</span>
<span class="t n" id="t7" style="left:22.40px;top:57.20px;font-size:8.60px;font-weight:400;color:#444;transform:scaleX(0.8157)">10</span>
<span class="t n" id="t8" style="left:21.80px;top:106.70px;font-size:8.60px;font-weight:400;color:#444;transform:scaleX(0.9203)">5</span>
<span class="t n" id="t9" style="left:32.00px;top:159.05px;font-size:7.90px;font-weight:400;color:#222;transform:scaleX(0.9972)">November 2016</span>
<span class="t n" id="t10" style="left:203.00px;top:159.05px;font-size:7.90px;font-weight:400;color:#222;transform:scaleX(0.9937)">December 2016</span>
<span class="t n" id="t11" style="left:383.50px;top:159.05px;font-size:7.90px;font-weight:400;color:#222;transform:scaleX(0.9931)">January 2017</span>
<span class="t n" id="t12" style="left:557.70px;top:159.05px;font-size:7.90px;font-weight:400;color:#222;transform:scaleX(1.0033)">February 2017</span>
<span class="t n" id="t13" style="left:722.40px;top:159.05px;font-size:7.90px;font-weight:400;color:#222;transform:scaleX(0.9959)">March 2017</span>
<span class="t n" id="t14" style="left:901.80px;top:159.05px;font-size:7.90px;font-weight:400;color:#222;transform:scaleX(0.9822)">April 2017</span>
<span class="t" id="t15" style="left:12.70px;top:193.30px;font-size:8.40px;font-weight:400;color:#222;transform:scaleX(0.9346)">Primary Dimension:</span>
<span class="t b" id="t16" style="left:87.00px;top:193.30px;font-size:8.40px;font-weight:700;color:#222;transform:scaleX(0.8740)">Landing Page</span>
<span class="t" id="t17" style="left:146.80px;top:193.30px;font-size:8.40px;font-weight:400;color:#3366cc;transform:scaleX(0.9233)">Content Grouping:</span>
<span class="t" id="t18" style="left:213.60px;top:193.30px;font-size:8.40px;font-weight:400;color:#444;transform:scaleX(0.9120)">none</span>
<span class="t" id="t19" style="left:253.20px;top:193.30px;font-size:8.40px;font-weight:400;color:#3366cc;transform:scaleX(0.8829)">Other</span>
<span class="t" id="t20" style="left:25.70px;top:217.90px;font-size:8.40px;font-weight:400;color:#bdbdbd;transform:scaleX(0.9150)">Plot Rows</span>
<span class="t" id="t21" style="left:75.80px;top:217.10px;font-size:8.40px;font-weight:400;color:#333;transform:scaleX(0.9299)">Secondary dimension: Source</span>
<span class="t" id="t22" style="left:201.70px;top:217.10px;font-size:8.40px;font-weight:400;color:#666;transform:scaleX(0.9229)">Sort Type:</span>
<span class="t" id="t23" style="left:247.50px;top:217.10px;font-size:8.40px;font-weight:400;color:#333;transform:scaleX(0.9493)">Default</span>
<span class="t" id="t24" style="left:674.50px;top:217.70px;font-size:9.00px;font-weight:400;color:#222;transform:scaleX(0.9850)">/blog/android-business</span>
<span class="t" id="t25" style="left:804.00px;top:217.70px;font-size:9.00px;font-weight:400;color:#3468b0;transform:scaleX(0.9476)">advanced</span>
<span class="t b" id="t26" style="left:44.70px;top:270.90px;font-size:8.60px;font-weight:700;color:#1c1c1c;transform:scaleX(0.8572)">Landing Page</span>
<span class="t b" id="t27" style="left:232.60px;top:270.90px;font-size:8.60px;font-weight:700;color:#1c1c1c;transform:scaleX(0.8442)">Source</span>
<span class="t b" id="t28" style="left:380.90px;top:248.90px;font-size:8.40px;font-weight:700;color:#1c1c1c;transform:scaleX(0.8704)">Acquisition</span>
<span class="t b" id="t29" style="left:571.50px;top:248.90px;font-size:8.40px;font-weight:700;color:#1c1c1c;transform:scaleX(0.8760)">Behavior</span>
<span class="t b" id="t30" style="left:767.70px;top:249.20px;font-size:8.40px;font-weight:700;color:#1c1c1c;transform:scaleX(0.8732)">Conversions</span>
<span class="t" id="t31" style="left:821.60px;top:248.70px;font-size:8.60px;font-weight:400;color:#555;transform:scaleX(0.9100)">eCommerce</span>
<span class="t b" id="t32" style="left:388.90px;top:281.10px;font-size:8.40px;font-weight:700;color:#1c1c1c;transform:scaleX(0.8619)">Sessions</span>
<span class="t b" id="t33" style="left:459.00px;top:281.10px;font-size:8.40px;font-weight:700;color:#1c1c1c;transform:scaleX(0.8704)">% New</span>
<span class="t b" id="t34" style="left:445.00px;top:293.60px;font-size:8.40px;font-weight:700;color:#1c1c1c;transform:scaleX(0.8754)">Sessions</span>
<span class="t b" id="t35" style="left:515.00px;top:281.10px;font-size:8.40px;font-weight:700;color:#1c1c1c;transform:scaleX(0.8779)">New Users</span>
<span class="t b" id="t36" style="left:575.70px;top:281.10px;font-size:8.40px;font-weight:700;color:#1c1c1c;transform:scaleX(0.8691)">Bounce Rate</span>
<span class="t b" id="t37" style="left:647.60px;top:281.10px;font-size:8.40px;font-weight:700;color:#1c1c1c;transform:scaleX(0.9269)">Pages /</span>
<span class="t b" id="t38" style="left:637.60px;top:293.60px;font-size:8.40px;font-weight:700;color:#1c1c1c;transform:scaleX(0.8840)">Session</span>
<span class="t b" id="t39" style="left:703.70px;top:281.10px;font-size:8.40px;font-weight:700;color:#1c1c1c;transform:scaleX(0.8853)">Avg. Session</span>
<span class="t b" id="t40" style="left:702.40px;top:293.60px;font-size:8.40px;font-weight:700;color:#1c1c1c;transform:scaleX(0.8682)">Duration</span>
<span class="t b" id="t41" style="left:775.30px;top:281.10px;font-size:8.40px;font-weight:700;color:#1c1c1c;transform:scaleX(0.8844)">Transactions</span>
<span class="t b" id="t42" style="left:848.60px;top:289.70px;font-size:8.40px;font-weight:700;color:#1c1c1c;transform:scaleX(0.8619)">Revenue</span>
<span class="t b" id="t43" style="left:919.30px;top:276.90px;font-size:8.40px;font-weight:700;color:#1c1c1c;transform:scaleX(0.8758)">Ecommerce</span>
<span class="t b" id="t44" style="left:920.30px;top:286.20px;font-size:8.40px;font-weight:700;color:#1c1c1c;transform:scaleX(0.8616)">Conversion</span>
<span class="t b" id="t45" style="left:922.80px;top:299.00px;font-size:8.40px;font-weight:700;color:#1c1c1c;transform:scaleX(0.8702)">Rate</span>
<span class="t" id="t46" style="left:408.40px;top:322.05px;font-size:14.30px;font-weight:400;color:#333;transform:scaleX(0.9891)">204</span>
<span class="t" id="t47" style="left:396.40px;top:339.80px;font-size:8.20px;font-weight:400;color:#8a8a8a;transform:scaleX(0.9349)">% of Total:</span>
<span class="t" id="t48" style="left:411.40px;top:349.00px;font-size:8.20px;font-weight:400;color:#8a8a8a;transform:scaleX(0.8872)">0.00%</span>
<span class="t" id="t49" style="left:393.10px;top:358.20px;font-size:8.20px;font-weight:400;color:#8a8a8a;transform:scaleX(0.9286)">(5,870,749)</span>
<span class="t" id="t50" style="left:449.90px;top:322.05px;font-size:14.30px;font-weight:400;color:#333;transform:scaleX(0.9588)">70.10%</span>
<span class="t" id="t51" style="left:450.40px;top:339.80px;font-size:8.20px;font-weight:400;color:#8a8a8a;transform:scaleX(0.9596)">Avg for View:</span>
<span class="t" id="t52" style="left:470.80px;top:349.00px;font-size:8.20px;font-weight:400;color:#8a8a8a;transform:scaleX(0.9215)">76.07%</span>
<span class="t" id="t53" style="left:467.80px;top:358.20px;font-size:8.20px;font-weight:400;color:#8a8a8a;transform:scaleX(0.9106)">(-7.86%)</span>
<span class="t" id="t54" style="left:535.30px;top:322.05px;font-size:14.30px;font-weight:400;color:#333;transform:scaleX(0.9682)">143</span>
<span class="t" id="t55" style="left:522.70px;top:339.80px;font-size:8.20px;font-weight:400;color:#8a8a8a;transform:scaleX(0.9375)">% of Total:</span>
<span class="t" id="t56" style="left:537.80px;top:349.00px;font-size:8.20px;font-weight:400;color:#8a8a8a;transform:scaleX(0.8872)">0.00%</span>
<span class="t" id="t57" style="left:519.70px;top:358.20px;font-size:8.20px;font-weight:400;color:#8a8a8a;transform:scaleX(0.9238)">(4,466,151)</span>
<span class="t" id="t58" style="left:578.10px;top:322.05px;font-size:14.30px;font-weight:400;color:#333;transform:scaleX(0.9526)">80.88%</span>
<span class="t" id="t59" style="left:578.60px;top:339.80px;font-size:8.20px;font-weight:400;color:#8a8a8a;transform:scaleX(0.9533)">Avg for View:</span>
<span class="t" id="t60" style="left:598.70px;top:349.00px;font-size:8.20px;font-weight:400;color:#8a8a8a;transform:scaleX(0.9215)">65.01%</span>
<span class="t" id="t61" style="left:593.90px;top:358.20px;font-size:8.20px;font-weight:400;color:#8a8a8a;transform:scaleX(0.9147)">(24.41%)</span>
<span class="t" id="t62" style="left:658.50px;top:322.05px;font-size:14.30px;font-weight:400;color:#333;transform:scaleX(0.9487)">1.38</span>
<span class="t" id="t63" style="left:639.90px;top:339.80px;font-size:8.20px;font-weight:400;color:#8a8a8a;transform:scaleX(0.9408)">Avg for View:</span>
<span class="t" id="t64" style="left:670.30px;top:349.00px;font-size:8.20px;font-weight:400;color:#8a8a8a;transform:scaleX(0.9224)">2.26</span>
<span class="t" id="t65" style="left:652.50px;top:358.20px;font-size:8.20px;font-weight:400;color:#8a8a8a;transform:scaleX(0.9040)">(-39.16%)</span>
<span class="t" id="t66" style="left:700.70px;top:322.05px;font-size:14.30px;font-weight:400;color:#333;transform:scaleX(0.9891)">00:01:11</span>
<span class="t" id="t67" style="left:709.50px;top:339.80px;font-size:8.20px;font-weight:400;color:#8a8a8a;transform:scaleX(0.9492)">Avg for View:</span>
<span class="t" id="t68" style="left:725.00px;top:349.00px;font-size:8.20px;font-weight:400;color:#8a8a8a;transform:scaleX(0.9412)">00:01:38</span>
<span class="t" id="t69" style="left:722.30px;top:358.20px;font-size:8.20px;font-weight:400;color:#8a8a8a;transform:scaleX(0.9095)">(-28.26%)</span>
<span class="t" id="t70" style="left:38.20px;top:395.10px;font-size:9.00px;font-weight:400;color:#222;transform:scaleX(0.9314)">1.</span>
<span class="t" id="t71" style="left:56.50px;top:389.90px;font-size:9.00px;font-weight:400;color:#2d64ab;transform:scaleX(1.0520)">/blog/android-business-card-scan</span>
<span class="t" id="t72" style="left:56.50px;top:400.20px;font-size:9.00px;font-weight:400;color:#2d64ab;transform:scaleX(1.0408)">ner-apps-crm/</span>
<span class="t" id="t73" style="left:219.00px;top:394.80px;font-size:9.00px;font-weight:400;color:#111;transform:scaleX(1.0321)">google</span>
<span class="t d" id="t74" style="left:382.60px;top:394.90px;font-size:9.00px;font-weight:700;color:#222;transform:scaleX(1.0323)">117</span>
<span class="t" id="t75" style="left:402.20px;top:395.60px;font-size:8.00px;font-weight:400;color:#8a8a8a;transform:scaleX(0.9671)">(57.35%)</span>
<span class="t d" id="t76" style="left:467.50px;top:394.90px;font-size:9.00px;font-weight:700;color:#222;transform:scaleX(0.9859)">81.20%</span>
<span class="t d" id="t77" style="left:514.50px;top:394.90px;font-size:9.00px;font-weight:700;color:#222;transform:scaleX(0.9285)">95</span>
<span class="t" id="t78" style="left:529.50px;top:395.60px;font-size:8.00px;font-weight:400;color:#8a8a8a;transform:scaleX(0.9455)">(66.43%)</span>
<span class="t d" id="t79" style="left:595.70px;top:394.90px;font-size:9.00px;font-weight:700;color:#222;transform:scaleX(0.9859)">81.20%</span>
<span class="t d" id="t80" style="left:668.70px;top:394.90px;font-size:9.00px;font-weight:700;color:#222;transform:scaleX(1.0381)">1.39</span>
<span class="t d" id="t81" style="left:720.30px;top:394.90px;font-size:9.00px;font-weight:700;color:#222;transform:scaleX(1.0102)">00:01:10</span>
</body></html>
